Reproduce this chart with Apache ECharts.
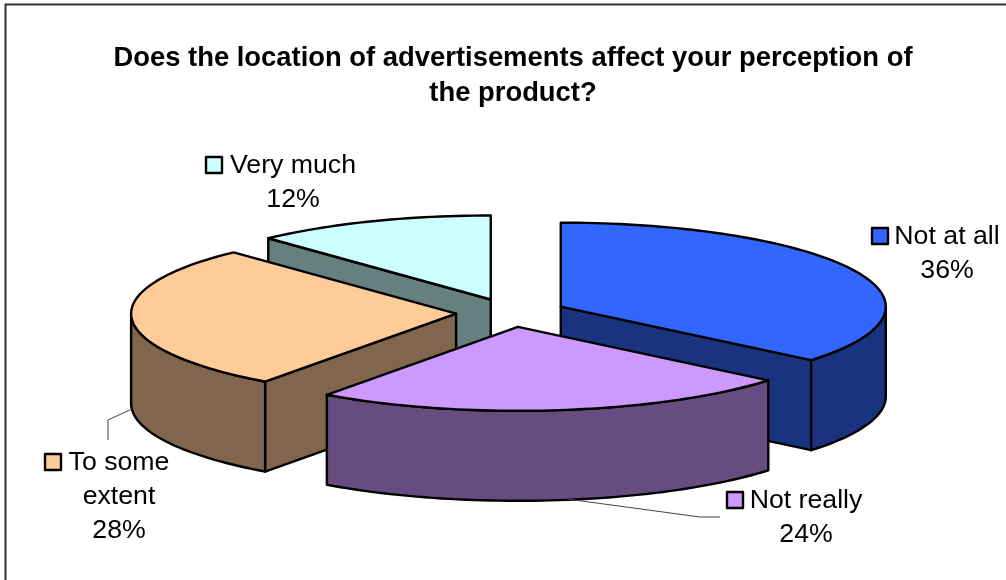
<!DOCTYPE html>
<html>
<head>
<meta charset="utf-8">
<style>html,body{margin:0;padding:0;background:#fff}#chart{width:1006px;height:580px}</style>
<script src="https://cdn.jsdelivr.net/npm/echarts@6/dist/echarts.min.js"></script>
</head>
<body>
<div id="chart"></div>
<script>
// Survey answers, clockwise from twelve o'clock
const categories = ['Not at all', 'Not really', 'To some\nextent', 'Very much'];
const shares = [36, 24, 28, 12];
const topColors = ['#3366FF', '#CC99FF', '#FFCC99', '#CCFFFF'];
const sideColors = ['#1A337F', '#664C7F', '#7F664C', '#667F7F'];

// Exploded pie projection
const CX = 511, CY = 312.7;    // centre of the unexploded top face
const RX = 325, RY = 84;       // top face ellipse radii
const DEPTH = 90;              // height of the walls
const EXPLODE = 55;            // pull-out distance along each slice's middle angle
const FONT = '"Liberation Sans", Arial, sans-serif';

// Label placement per slice: text centre, first-line centre, key box, leader polyline
const labelLayout = [
  { x: 947, y: 237, key: [872, 228], leader: null },
  { x: 806, y: 501, key: [727, 492], leader: [[567, 499], [700, 517], [720, 517]] },
  { x: 119, y: 463, key: [45, 454], leader: [[132, 409], [108, 420], [108, 440]] },
  { x: 293, y: 166, key: [206, 157], leader: null }
];

const total = shares.reduce((a, b) => a + b, 0);
const rad = d => d * Math.PI / 180;
const startAngles = shares.map((_, i) => shares.slice(0, i).reduce((a, b) => a + b, 0) / total * 360);
const endAngles = shares.map((v, i) => startAngles[i] + v / total * 360);

// Paint order: slices further from the viewer first
const depthRank = shares
  .map((_, i) => i)
  .sort((a, b) => Math.cos(rad((startAngles[b] + endAngles[b]) / 2)) - Math.cos(rad((startAngles[a] + endAngles[a]) / 2)));

function arcPoints(apex, a0, a1, dy) {
  const pts = [];
  const n = Math.max(2, Math.ceil((a1 - a0) / 1.5));
  for (let k = 0; k <= n; k++) {
    const a = rad(a0 + (a1 - a0) * k / n);
    pts.push([apex[0] + RX * Math.sin(a), apex[1] - RY * Math.cos(a) + dy]);
  }
  return pts;
}

function renderSlice(params, api) {
  const i = params.dataIndex;
  const a0 = startAngles[i], a1 = endAngles[i];
  const mid = rad((a0 + a1) / 2);
  const apex = [
    CX + EXPLODE * Math.sin(mid),
    CY - EXPLODE * RY / RX * Math.cos(mid)
  ];
  const layer = depthRank.indexOf(i) * 10;
  const stroke = { stroke: '#000', lineWidth: 2.4, lineJoin: 'round' };
  const children = [];

  // Walls along the radial cuts, only where they face the viewer
  const cutFace = angle => {
    const rim = arcPoints(apex, angle, angle, 0)[0];
    return [apex, rim, [rim[0], rim[1] + DEPTH], [apex[0], apex[1] + DEPTH]];
  };
  if (Math.sin(rad(a0)) < -1e-6) {
    children.push({ type: 'polygon', z2: layer, shape: { points: cutFace(a0) },
      style: Object.assign({ fill: sideColors[i] }, stroke) });
  }
  if (Math.sin(rad(a1)) > 1e-6) {
    children.push({ type: 'polygon', z2: layer, shape: { points: cutFace(a1) },
      style: Object.assign({ fill: sideColors[i] }, stroke) });
  }

  // Outer wall on the front half of the ellipse
  const w0 = Math.max(a0, 90), w1 = Math.min(a1, 270);
  if (w1 > w0) {
    const upper = arcPoints(apex, w0, w1, 0);
    const lower = arcPoints(apex, w0, w1, DEPTH).reverse();
    children.push({ type: 'polygon', z2: layer + 1, shape: { points: upper.concat(lower) },
      style: Object.assign({ fill: sideColors[i] }, stroke) });
  }

  // Top face
  children.push({ type: 'polygon', z2: layer + 2, shape: { points: [apex].concat(arcPoints(apex, a0, a1, 0)) },
    style: Object.assign({ fill: topColors[i] }, stroke) });

  // Leader, key box and label
  const lab = labelLayout[i];
  if (lab.leader) {
    children.push({ type: 'polyline', z2: 100, shape: { points: lab.leader },
      style: { fill: null, stroke: '#444', lineWidth: 1 } });
  }
  children.push({ type: 'rect', z2: 100, shape: { x: lab.key[0], y: lab.key[1], width: 16, height: 16 },
    style: Object.assign({ fill: topColors[i] }, stroke) });
  children.push({ type: 'text', z2: 100, x: lab.x, y: lab.y - 17,
    style: {
      text: categories[i] + '\n' + api.value(0) + '%',
      fill: '#000', font: '26.7px ' + FONT, lineHeight: 34,
      align: 'center', verticalAlign: 'top'
    } });

  return { type: 'group', children };
}

const chart = echarts.init(document.getElementById('chart'), null, { renderer: 'canvas' });
chart.setOption({
  animation: false,
  backgroundColor: '#fff',
  title: {
    text: 'Does the location of advertisements affect your perception of\nthe product?',
    left: 508, top: 36, textAlign: 'center',
    textStyle: { fontFamily: FONT, fontWeight: 'bold', fontSize: 27.4, lineHeight: 35, color: '#000' }
  },
  graphic: [{
    type: 'rect', silent: true, z: -1,
    shape: { x: 5.5, y: 4.5, width: 1020, height: 600 },
    style: { fill: '#fff', stroke: '#333', lineWidth: 2 }
  }],
  series: [{
    type: 'custom',
    coordinateSystem: 'none',
    silent: true,
    renderItem: renderSlice,
    data: shares.map(v => [v])
  }]
});
</script>
</body>
</html>
